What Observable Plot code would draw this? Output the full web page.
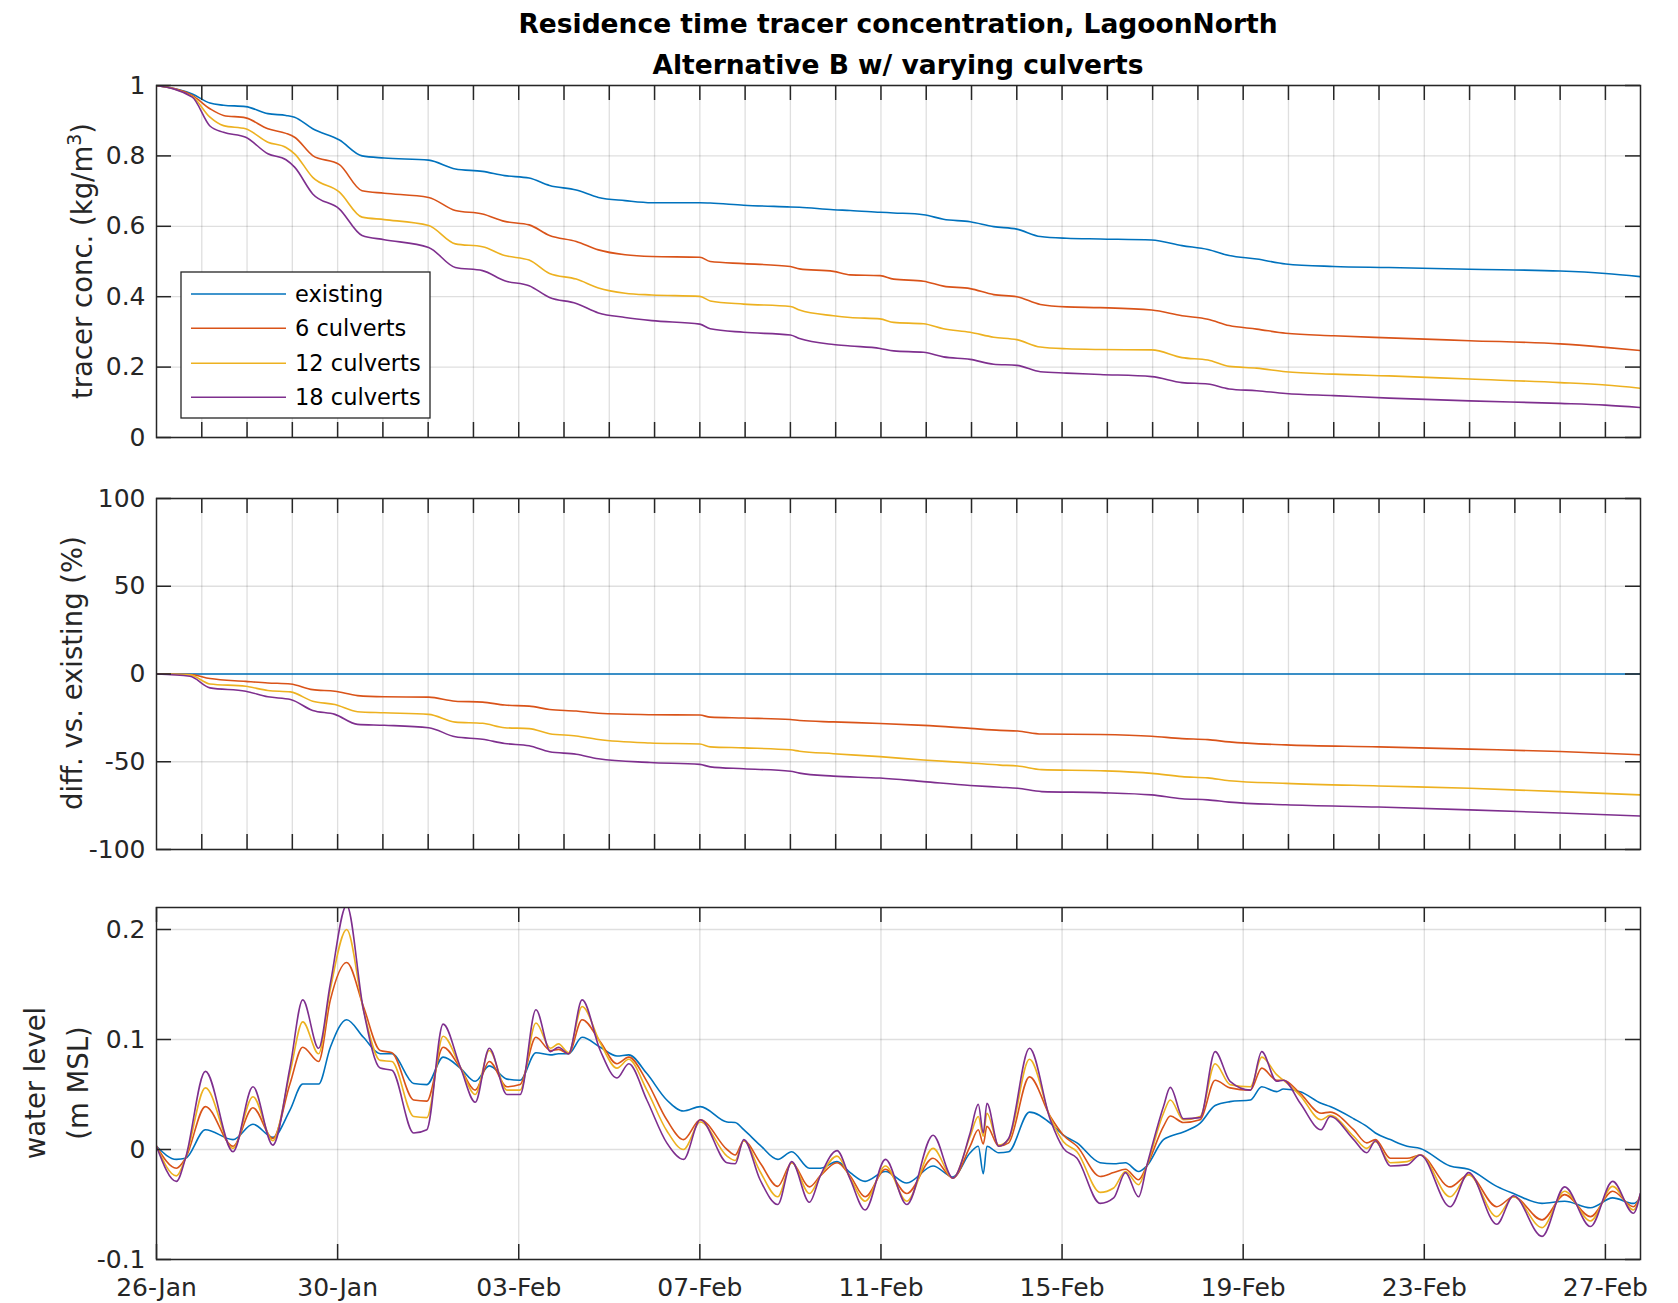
<!DOCTYPE html>
<html>
<head>
<meta charset="utf-8">
<script src="https://cdn.jsdelivr.net/npm/d3@7"></script>
<script src="https://cdn.jsdelivr.net/npm/@observablehq/plot@0.6"></script>
<style>
html, body { margin: 0; padding: 0; background: #fff; }
#chart { position: relative; width: 1678px; height: 1303px; font-family: "DejaVu Sans", sans-serif; color: #262626; overflow: hidden; }
#title { position: absolute; left: 156px; width: 1484px; top: 3px; text-align: center; font-weight: bold; font-size: 26.5px; line-height: 41px; color: #000; font-family: "DejaVu Sans", sans-serif; }
</style>
</head>
<body>
<div id="chart">
  <div id="title">Residence time tracer concentration, LagoonNorth<br>Alternative B w/ varying culverts</div>
</div>
<script>
// ---------------- DATA ----------------
const startDateUTC = Date.UTC(2018, 0, 26); // 26-Jan
const endDay = 32.775;                       // right edge of the axes (days after 26-Jan)

const seriesNames  = ["existing", "6 culverts", "12 culverts", "18 culverts"];
const seriesColors = ["#0072BD", "#D95319", "#EDB120", "#7E2F8E"];

const dailyGridDays = [1,2,3,4,5,6,7,8,9,10,11,12,13,14,15,16,17,18,19,20,21,22,23,24,25,26,27,28,29,30,31,32];
const xTickDays   = [0, 4, 8, 12, 16, 20, 24, 28, 32];
const xTickLabels = ["26-Jan", "30-Jan", "03-Feb", "07-Feb", "11-Feb", "15-Feb", "19-Feb", "23-Feb", "27-Feb"];

// Panel 1: tracer concentration (kg/m3)
const concDays = [0, 0.79, 1.18, 1.48, 1.97, 2.46, 2.86, 3.05, 3.45, 4.04, 4.54, 5.03, 6.01, 6.6, 7.2, 7.69, 8.23, 8.68, 9.27, 9.76, 10.35, 10.94, 12.0, 12.23, 12.97, 14.0, 14.2, 14.95, 15.32, 15.98, 16.28, 16.94, 17.38, 17.97, 18.49, 19.0, 19.52, 20.1, 20.84, 21.98, 22.65, 23.22, 23.69, 24.3, 24.94, 26.0, 27.22, 29.0, 31.0, 32.0, 32.77];
const concExisting = [1.0, 0.976, 0.95, 0.944, 0.94, 0.92, 0.915, 0.91, 0.877, 0.845, 0.80, 0.794, 0.788, 0.763, 0.756, 0.744, 0.737, 0.716, 0.703, 0.682, 0.673, 0.667, 0.667, 0.666, 0.660, 0.655, 0.654, 0.647, 0.645, 0.640, 0.638, 0.633, 0.620, 0.613, 0.599, 0.592, 0.571, 0.566, 0.564, 0.561, 0.545, 0.534, 0.517, 0.507, 0.493, 0.486, 0.483, 0.478, 0.473, 0.466, 0.457];
const conc6  = [1.0, 0.972, 0.934, 0.915, 0.908, 0.877, 0.864, 0.853, 0.801, 0.775, 0.701, 0.694, 0.682, 0.645, 0.635, 0.614, 0.604, 0.574, 0.557, 0.533, 0.519, 0.514, 0.512, 0.500, 0.494, 0.486, 0.479, 0.472, 0.462, 0.460, 0.450, 0.444, 0.430, 0.423, 0.406, 0.400, 0.378, 0.371, 0.369, 0.362, 0.346, 0.336, 0.318, 0.308, 0.296, 0.289, 0.283, 0.275, 0.266, 0.256, 0.247];
const conc12 = [1.0, 0.969, 0.91, 0.886, 0.877, 0.839, 0.824, 0.806, 0.739, 0.697, 0.626, 0.619, 0.602, 0.550, 0.542, 0.517, 0.504, 0.466, 0.450, 0.425, 0.410, 0.405, 0.401, 0.388, 0.379, 0.372, 0.362, 0.346, 0.341, 0.337, 0.327, 0.323, 0.309, 0.299, 0.285, 0.278, 0.257, 0.252, 0.250, 0.249, 0.227, 0.220, 0.202, 0.197, 0.187, 0.180, 0.175, 0.166, 0.156, 0.149, 0.140];
const conc18 = [1.0, 0.967, 0.885, 0.867, 0.853, 0.806, 0.789, 0.768, 0.692, 0.649, 0.574, 0.562, 0.540, 0.483, 0.474, 0.445, 0.431, 0.398, 0.381, 0.354, 0.341, 0.332, 0.322, 0.309, 0.299, 0.291, 0.281, 0.264, 0.260, 0.253, 0.246, 0.242, 0.229, 0.222, 0.208, 0.205, 0.187, 0.183, 0.179, 0.173, 0.156, 0.152, 0.138, 0.133, 0.125, 0.119, 0.112, 0.104, 0.097, 0.092, 0.085];
const concTicks = [0, 0.2, 0.4, 0.6, 0.8, 1];
const concTickLabels = ["0", "0.2", "0.4", "0.6", "0.8", "1"];

// Panel 2: difference vs. existing (%)
const diffDays = [0, 0.74, 1.18, 1.97, 2.46, 2.96, 3.45, 3.94, 4.44, 5.03, 6.01, 6.6, 7.2, 7.69, 8.23, 8.68, 9.27, 9.76, 10.9, 12.0, 12.23, 12.97, 14.0, 14.2, 14.95, 15.98, 16.94, 17.97, 18.63, 19.02, 19.55, 20.84, 21.98, 22.65, 23.22, 23.69, 24.94, 26.99, 29.0, 31.0, 32.77];
const diffExistingDays = [0, 32.77];
const diffExisting = [0, 0];
const diff6  = [0, -0.3, -2.6, -4.2, -5.1, -5.7, -8.9, -9.8, -12.3, -13.0, -13.2, -15.5, -16.0, -17.7, -18.3, -20.2, -21.1, -22.4, -23.2, -23.4, -24.6, -25.1, -25.9, -26.5, -27.3, -28.2, -29.3, -31.0, -32.1, -32.5, -34.2, -34.5, -35.5, -36.8, -37.4, -38.7, -40.4, -41.5, -42.8, -44.2, -46.0];
const diff12 = [0, -0.5, -5.7, -7.0, -9.4, -10.2, -15.5, -17.4, -21.5, -22.1, -23.0, -27.4, -28.1, -30.6, -31.1, -34.0, -35.3, -37.3, -39.3, -39.9, -41.5, -42.1, -43.2, -44.0, -45.4, -47.1, -49.0, -50.7, -51.9, -52.4, -54.5, -55.1, -56.6, -58.5, -59.2, -60.8, -62.3, -63.8, -65.1, -67.0, -68.9];
const diff18 = [0, -1.3, -7.9, -9.8, -13.0, -14.5, -20.8, -23.0, -28.7, -29.2, -30.6, -35.8, -37.2, -39.6, -40.9, -44.3, -45.7, -48.3, -50.4, -51.5, -52.9, -54.0, -55.4, -56.5, -58.2, -59.3, -61.3, -63.5, -64.5, -65.1, -67.0, -67.6, -68.9, -71.1, -71.7, -73.0, -74.5, -75.8, -77.4, -79.2, -80.9];
const diffTicks = [-100, -50, 0, 50, 100];
const diffTickLabels = ["-100", "-50", "0", "50", "100"];

// Panel 3: water level (m MSL)
const wlDays = [0, 0.44, 0.64, 1.08, 1.69, 2.13, 2.57, 2.95, 3.23, 3.58, 3.84, 4.20, 4.57, 4.94, 5.20, 5.68, 5.97, 6.33, 6.71, 7.04, 7.35, 7.74, 8.03, 8.38, 8.70, 8.88, 9.10, 9.40, 9.80, 10.17, 10.43, 10.83, 11.27, 11.64, 12.01, 12.60, 12.78, 12.97, 13.33, 13.72, 14.03, 14.42, 14.66, 15.03, 15.32, 15.65, 16.10, 16.57, 17.15, 17.59, 17.97, 18.15, 18.26, 18.34, 18.60, 18.82, 19.28, 19.74, 20.03, 20.33, 20.84, 21.14, 21.40, 21.69, 21.87, 22.24, 22.39, 22.68, 23.05, 23.38, 23.71, 24.16, 24.41, 24.74, 24.89, 25.26, 25.72, 25.92, 26.44, 26.73, 26.92, 27.25, 27.62, 27.91, 28.57, 28.98, 29.60, 29.97, 30.60, 31.10, 31.67, 32.16, 32.62, 32.77];
const wlExisting = [0.003, -0.009, -0.008, 0.018, 0.009, 0.023, 0.011, 0.036, 0.0595, 0.0595, 0.093, 0.118, 0.102, 0.087, 0.087, 0.060, 0.059, 0.084, 0.074, 0.062, 0.076, 0.064, 0.063, 0.088, 0.086, 0.087, 0.087, 0.102, 0.093, 0.085, 0.086, 0.069, 0.045, 0.035, 0.039, 0.025, 0.0245, 0.018, 0.004, -0.009, -0.002, -0.017, -0.017, -0.011, -0.021, -0.029, -0.020, -0.0305, -0.015, -0.025, -0.003, 0.003, -0.022, 0.003, -0.003, -0.002, 0.034, 0.024, 0.013, 0.006, -0.012, -0.013, -0.012, -0.020, -0.015, 0.009, 0.012, 0.016, 0.024, 0.040, 0.0435, 0.045, 0.057, 0.0526, 0.055, 0.0526, 0.042, 0.039, 0.028, 0.021, 0.015, 0.009, 0.003, 0.001, -0.015, -0.018, -0.0335, -0.040, -0.049, -0.047, -0.053, -0.044, -0.049, -0.044];
const wl6  = [0.003, -0.017, -0.008, 0.039, 0.003, 0.038, 0.010, 0.060, 0.093, 0.080, 0.136, 0.170, 0.130, 0.090, 0.088, 0.045, 0.044, 0.093, 0.074, 0.054, 0.080, 0.057, 0.059, 0.102, 0.090, 0.091, 0.087, 0.118, 0.098, 0.078, 0.084, 0.062, 0.027, 0.009, 0.027, 0.000, -0.005, 0.008, -0.012, -0.0335, -0.012, -0.034, -0.024, -0.012, -0.024, -0.043, -0.018, -0.040, -0.008, -0.026, 0.003, 0.018, 0.005, 0.021, 0.003, 0.006, 0.066, 0.030, 0.013, 0.003, -0.0245, -0.021, -0.018, -0.0275, -0.015, 0.021, 0.0305, 0.0245, 0.027, 0.063, 0.056, 0.054, 0.074, 0.063, 0.063, 0.051, 0.033, 0.034, 0.018, 0.006, 0.009, -0.008, -0.008, -0.005, -0.034, -0.023, -0.052, -0.043, -0.064, -0.041, -0.061, -0.038, -0.052, -0.042];
const wl12 = [0.003, -0.024, -0.008, 0.056, 0.001, 0.048, 0.008, 0.070, 0.116, 0.087, 0.146, 0.200, 0.127, 0.081, 0.080, 0.030, 0.029, 0.103, 0.075, 0.050, 0.090, 0.054, 0.054, 0.115, 0.092, 0.096, 0.088, 0.130, 0.097, 0.074, 0.082, 0.054, 0.017, 0.000, 0.025, -0.006, -0.010, 0.008, -0.020, -0.043, -0.012, -0.040, -0.024, -0.006, -0.026, -0.047, -0.015, -0.047, 0.001, -0.026, 0.012, 0.030, 0.012, 0.033, 0.004, 0.009, 0.082, 0.029, 0.007, -0.002, -0.039, -0.035, -0.020, -0.032, -0.015, 0.033, 0.045, 0.027, 0.030, 0.078, 0.059, 0.057, 0.084, 0.068, 0.063, 0.049, 0.027, 0.031, 0.012, 0.001, 0.007, -0.012, -0.011, -0.005, -0.043, -0.023, -0.061, -0.043, -0.071, -0.038, -0.065, -0.0335, -0.055, -0.041];
const wl18 = [0.003, -0.029, -0.008, 0.071, -0.002, 0.057, 0.004, 0.075, 0.136, 0.092, 0.151, 0.222, 0.127, 0.074, 0.072, 0.015, 0.018, 0.114, 0.075, 0.043, 0.092, 0.050, 0.050, 0.127, 0.089, 0.093, 0.087, 0.136, 0.090, 0.065, 0.078, 0.045, 0.006, -0.009, 0.027, -0.012, -0.013, 0.009, -0.0275, -0.050, -0.011, -0.048, -0.024, -0.001, -0.027, -0.055, -0.009, -0.050, 0.013, -0.026, 0.015, 0.041, 0.015, 0.042, 0.003, 0.010, 0.092, 0.027, 0.001, -0.008, -0.049, -0.044, -0.021, -0.043, -0.015, 0.039, 0.0565, 0.028, 0.029, 0.089, 0.062, 0.054, 0.089, 0.062, 0.063, 0.042, 0.018, 0.030, 0.009, -0.003, 0.008, -0.015, -0.014, -0.005, -0.052, -0.021, -0.068, -0.042, -0.079, -0.034, -0.070, -0.029, -0.058, -0.040];
const wlTicks = [-0.1, 0, 0.1, 0.2];
const wlTickLabels = ["-0.1", "0", "0.1", "0.2"];

// ---------------- DRAWING ----------------
const toDate = d => new Date(startDateUTC + d * 864e5);
const chart = document.getElementById("chart");
const W = 1678, ML = 156, MR = 38, TICK = 15;
const AX = "#262626";

function series(days, values) {
  return days.map((d, i) => ({date: toDate(d), v: values[i]}));
}

function panel({top, height, marginTop, marginBottom, yDomain, yTicks, yTickLabels, gridDays, tickDays, showXLabels, lines}) {
  const plotW = W - ML - MR;
  const plotH = height - marginTop - marginBottom;
  const yLab = new Map(yTicks.map((v, i) => [v, yTickLabels[i]]));
  const xLab = new Map(xTickDays.map((d, i) => [+toDate(d), xTickLabels[i]]));
  const marks = [
    Plot.ruleX(gridDays.map(toDate), {stroke: AX, strokeOpacity: 0.15, strokeWidth: 1.3}),
    Plot.ruleY(yTicks, {stroke: AX, strokeOpacity: 0.15, strokeWidth: 1.3}),
    ...lines.map(l => Plot.line(series(l.days, l.values), {x: "date", y: "v", stroke: l.color, strokeWidth: 1.6, curve: "monotone-x", clip: true})),
    Plot.ruleX(tickDays.map(toDate), {stroke: AX, strokeWidth: 1.5, insetBottom: plotH - TICK}),
    Plot.ruleX(tickDays.map(toDate), {stroke: AX, strokeWidth: 1.5, insetTop: plotH - TICK}),
    Plot.ruleY(yTicks, {stroke: AX, strokeWidth: 1.5, insetRight: plotW - TICK}),
    Plot.ruleY(yTicks, {stroke: AX, strokeWidth: 1.5, insetLeft: plotW - TICK}),
    Plot.frame({stroke: AX, strokeWidth: 1.5})
  ];
  const svg = Plot.plot({
    width: W, height, marginLeft: ML, marginRight: MR, marginTop, marginBottom,
    style: {fontFamily: "DejaVu Sans", fontSize: "25px", color: AX, background: "transparent", overflow: "visible"},
    x: {type: "utc", domain: [toDate(0), toDate(endDay)], axis: showXLabels ? "bottom" : null,
        ticks: xTickDays.map(toDate), tickFormat: d => xLab.get(+d), tickSize: 0, tickPadding: 19, label: null},
    y: {domain: yDomain, ticks: yTicks, tickFormat: v => yLab.get(v), tickSize: 0, tickPadding: 11, label: null},
    marks
  });
  svg.style.position = "absolute";
  svg.style.left = "0px";
  svg.style.top = top + "px";
  chart.appendChild(svg);
  return d3.select(svg);
}

function yLabel(sel, x, y, parts) {
  const t = sel.append("text")
    .attr("transform", `translate(${x},${y}) rotate(-90)`)
    .attr("text-anchor", "middle")
    .attr("fill", AX)
    .attr("font-family", "DejaVu Sans")
    .attr("font-size", 27.5);
  parts.forEach(p => {
    const s = t.append("tspan").text(p.text);
    if (p.dy) s.attr("dy", p.dy);
    if (p.size) s.attr("font-size", p.size);
  });
}

// Panel 1
const p1 = panel({
  top: 60, height: 410, marginTop: 25, marginBottom: 33,
  yDomain: [0, 1], yTicks: concTicks, yTickLabels: concTickLabels,
  gridDays: dailyGridDays, tickDays: dailyGridDays, showXLabels: false,
  lines: [
    {days: concDays, values: concExisting, color: seriesColors[0]},
    {days: concDays, values: conc6, color: seriesColors[1]},
    {days: concDays, values: conc12, color: seriesColors[2]},
    {days: concDays, values: conc18, color: seriesColors[3]}
  ]
});
yLabel(p1, 92, 201, [{text: "tracer conc. (kg/m"}, {text: "3", dy: -11, size: 19}, {text: ")", dy: 11}]);

// Legend (panel 1)
const lg = p1.append("g").attr("text-anchor", "start");
lg.append("rect").attr("x", 181).attr("y", 212).attr("width", 249).attr("height", 146)
  .attr("fill", "#fff").attr("stroke", AX).attr("stroke-width", 1.3);
const legendRows = [234, 268.3, 303.3, 337.3];
seriesNames.forEach((name, i) => {
  lg.append("line").attr("x1", 191).attr("x2", 286).attr("y1", legendRows[i]).attr("y2", legendRows[i])
    .attr("stroke", seriesColors[i]).attr("stroke-width", 1.6);
  lg.append("text").attr("x", 295).attr("y", legendRows[i]).attr("dy", "0.35em")
    .attr("text-anchor", "start")
    .attr("fill", "#000").attr("font-family", "DejaVu Sans").attr("font-size", 22.5).text(name);
});

// Panel 2
const p2 = panel({
  top: 470, height: 420, marginTop: 28, marginBottom: 41,
  yDomain: [-100, 100], yTicks: diffTicks, yTickLabels: diffTickLabels,
  gridDays: dailyGridDays, tickDays: dailyGridDays, showXLabels: false,
  lines: [
    {days: diffExistingDays, values: diffExisting, color: seriesColors[0]},
    {days: diffDays, values: diff6, color: seriesColors[1]},
    {days: diffDays, values: diff12, color: seriesColors[2]},
    {days: diffDays, values: diff18, color: seriesColors[3]}
  ]
});
yLabel(p2, 82, 203, [{text: "diff. vs. existing (%)"}]);

// Panel 3
const p3 = panel({
  top: 890, height: 413, marginTop: 17, marginBottom: 44,
  yDomain: [-0.1, 0.22], yTicks: wlTicks, yTickLabels: wlTickLabels,
  gridDays: xTickDays.slice(1), tickDays: xTickDays, showXLabels: true,
  lines: [
    {days: wlDays, values: wlExisting, color: seriesColors[0]},
    {days: wlDays, values: wl6, color: seriesColors[1]},
    {days: wlDays, values: wl12, color: seriesColors[2]},
    {days: wlDays, values: wl18, color: seriesColors[3]}
  ]
});
yLabel(p3, 44.6, 193, [{text: "water level"}]);
yLabel(p3, 88, 193, [{text: "(m MSL)"}]);
</script>
</body>
</html>
